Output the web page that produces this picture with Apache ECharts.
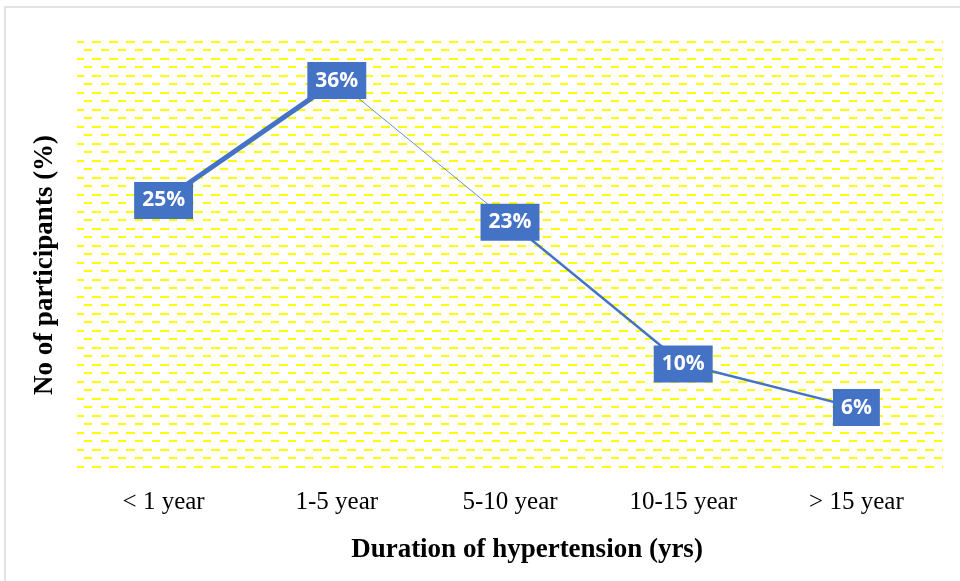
<!DOCTYPE html>
<html>
<head>
<meta charset="utf-8">
<script src="https://cdn.jsdelivr.net/npm/echarts@6/dist/echarts.min.js"></script>
<style>html,body{margin:0;padding:0;background:#fff}#c{width:960px;height:581px}</style>
</head>
<body>
<div id="c"></div>
<script>
const categories = ['< 1 year', '1-5 year', '5-10 year', '10-15 year', '> 15 year'];
const values = [25, 36, 23, 10, 6];
const xTitle = 'Duration of hypertension (yrs)';
const yTitle = 'No of participants (%)';
const segmentWidths = [5, 0.8, 2.4, 2.4];

// dashed "brick" pattern tile
const tile = document.createElement('canvas');
tile.width = 17; tile.height = 17;
const tc = tile.getContext('2d');
tc.fillStyle = '#FFFF00';
tc.fillRect(0, 0, 9, 2);
tc.fillRect(9, 8, 8, 2);

const segSeries = segmentWidths.map((w, i) => ({
  type: 'line',
  z: 2,
  silent: true,
  symbol: 'none',
  lineStyle: { color: '#4472C4', width: w },
  data: values.map((v, j) => (j === i || j === i + 1) ? v : null),
  connectNulls: false
}));

const chart = echarts.init(document.getElementById('c'));
chart.setOption({
  animation: false,
  backgroundColor: '#fff',
  graphic: [
    { type: 'rect', x: 5, y: 7, z: -10, shape: { x: 0, y: 0, width: 970, height: 600 },
      style: { fill: '#fff', stroke: '#d9d9d9', lineWidth: 1.5 } },
    { type: 'rect', x: 75, y: 41, z: -5, shape: { x: 2, y: 0, width: 866, height: 427 },
      style: { fill: { image: tile, repeat: 'repeat' } } }
  ],
  grid: { left: 77, right: 17, top: 37, bottom: 108 },
  xAxis: {
    type: 'category',
    data: categories,
    boundaryGap: true,
    axisLine: { show: false },
    axisTick: { show: false },
    axisLabel: { margin: 17, fontFamily: 'Liberation Serif', fontSize: 25, color: '#000' },
    name: xTitle,
    nameLocation: 'middle',
    nameGap: 64,
    nameTextStyle: { fontFamily: 'Liberation Serif', fontWeight: 'bold', fontSize: 27, color: '#000', padding: [0, 0, 0, 34] }
  },
  yAxis: {
    type: 'value',
    min: 0, max: 40, interval: 10,
    axisLine: { show: false },
    axisTick: { show: false },
    axisLabel: { show: false },
    splitLine: { show: false },
    name: yTitle,
    nameLocation: 'middle',
    nameGap: 18,
    nameTextStyle: { fontFamily: 'Liberation Serif', fontWeight: 'bold', fontSize: 27, color: '#000', padding: [0, 20, 0, 0] }
  },
  series: segSeries.concat([{
    type: 'line',
    z: 5,
    symbol: 'rect',
    symbolSize: 1,
    showSymbol: true,
    itemStyle: { color: 'rgba(0,0,0,0)' },
    lineStyle: { width: 0, color: 'rgba(0,0,0,0)' },
    data: values,
    label: {
      show: true,
      position: 'inside',
      formatter: p => p.value + '%',
      backgroundColor: '#4472C4',
      color: '#fff',
      fontFamily: 'Open Sans',
      fontWeight: 'bold',
      fontSize: 21,
      lineHeight: 21,
      padding: [8, 8]
    }
  }])
});
</script>
</body>
</html>
